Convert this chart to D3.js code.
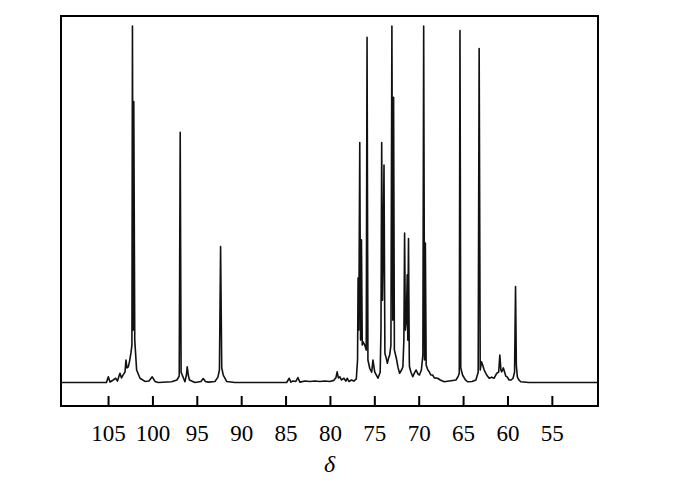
<!DOCTYPE html>
<html>
<head>
<meta charset="utf-8">
<script src="https://cdn.jsdelivr.net/npm/d3@7"></script>
<style>
  html, body { margin: 0; padding: 0; background: #fff; }
  svg { display: block; }
</style>
</head>
<body>
<script>
// Chemical shift (ppm) of each traced point of the spectrum
const shift = [
  110.3,105.35,105.18,104.97,104.78,104.41,104.14,103.94,103.66,103.49,103.28,103.09,
  102.98,102.87,102.72,102.59,102.42,102.31,102.25,102.17,102.10,101.99,101.78,101.40,
  100.84,100.39,100.02,99.71,99.34,97.83,97.24,96.98,96.87,96.77,96.64,96.34,96.17,96.08,
  95.96,95.83,95.21,94.53,94.28,94.03,93.71,92.96,92.62,92.45,92.32,92.19,92.02,91.64,
  90.71,84.88,84.59,84.40,84.17,83.84,83.61,83.39,82.82,82.26,81.70,81.13,80.57,80.01,
  79.56,79.33,79.19,79.05,78.88,78.71,78.43,78.21,78.06,77.87,77.57,77.31,77.03,76.89,
  76.83,76.75,76.64,76.55,76.45,76.36,76.27,76.08,75.91,75.82,75.72,75.52,75.30,75.15,
  74.96,74.59,74.34,74.25,74.17,74.08,74.00,73.91,73.81,73.67,73.53,73.39,73.27,73.13,
  73.02,72.92,72.83,72.74,72.52,72.32,72.15,71.93,71.78,71.67,71.59,71.50,71.39,71.29,
  71.23,71.15,71.06,71.04,70.87,70.67,70.48,70.29,70.09,69.92,69.70,69.53,69.44,69.34,
  69.25,69.16,68.97,68.81,68.64,68.43,68.24,67.87,67.57,67.12,66.56,65.80,65.54,65.43,
  65.35,65.26,65.06,64.76,64.50,63.97,63.56,63.30,63.19,63.07,62.93,62.79,62.62,62.34,
  62.06,61.78,61.50,61.20,60.99,60.86,60.74,60.64,60.46,60.32,60.19,60.01,59.82,59.59,
  59.37,59.20,59.09,59.00,58.89,58.70,58.51,57.58,49.8
];
// Relative intensity at each traced point
const intensity = [
  0,0,0,1.6,0.15,0.7,1.2,0.4,2.6,1.3,2.2,2.9,
  6.3,4.1,4.4,5.8,8.3,10.5,100,14.7,78.8,11.9,3.5,1.2,
  0.3,0.4,1.6,0.3,0,0.2,0.7,1.8,70.2,2.9,2.1,0.2,2.1,4.4,
  2.1,0.7,0,0.3,1.1,0.3,0.1,0.3,1.5,3.5,38.1,4.1,2.1,0.3,
  0,0,1.2,0.1,0.4,0.3,1.4,0.1,0.4,0.3,0.4,0.3,0.4,0.3,
  0.6,1.3,3.0,1.3,1.6,0.7,1.2,0.4,1.2,0.3,0.7,0.4,1.0,6.3,
  29.3,14.7,67.3,11.9,40.0,10.5,11.4,10.5,9.1,96.8,6.3,4.0,2.9,6.3,
  3.0,1.2,2.9,14.7,67.3,23.1,37.2,61.0,8.2,6.9,5.4,6.9,7.7,10.5,
  100,17.5,80.0,9.1,6.8,4.1,2.6,3.5,4.4,11.9,41.9,14.7,17.5,30.2,
  11.9,40.4,6.3,4.4,2.9,1.6,2.7,3.5,2.4,2.1,3.5,7.7,100,6.3,
  39.1,4.9,3.5,3.0,2.1,2.1,1.3,1.2,0.7,0.2,0.4,0.7,1.8,2.6,
  98.7,4.1,2.1,0.8,0.2,0.3,0.7,2.9,93.7,3.5,5.8,4.9,3.5,2.1,
  1.2,1.5,1.2,2.6,2.9,7.7,3.5,3.0,4.1,2.9,1.8,1.5,0.7,0.7,
  1.2,2.9,26.9,4.9,1.6,0.7,0.2,0,0
];
const tickValues = [105,100,95,90,85,80,75,70,65,60,55];
const xTitle = "δ";

const W = 674, H = 484;
const L = 61, R = 598, T = 16, B = 406;

const svg = d3.select("body").append("svg")
  .attr("width", W).attr("height", H);

const x = d3.scaleLinear().domain([110.3, 49.8]).range([L, R]);
const y = d3.scaleLinear().domain([0, 100]).range([382.5, 26]);

const pts = shift.map((s, i) => [s, intensity[i]]);

svg.append("path")
  .datum(pts)
  .attr("fill", "none")
  .attr("stroke", "#111")
  .attr("stroke-width", 1.6)
  .attr("stroke-linejoin", "round")
  .attr("d", d3.line().x(d => x(d[0])).y(d => y(d[1])));

// bottom axis with inward ticks
const axis = d3.axisBottom(x)
  .tickValues(tickValues)
  .tickSizeInner(-10)
  .tickSizeOuter(0)
  .tickPadding(19);

const g = svg.append("g")
  .attr("transform", `translate(0,${B})`)
  .call(axis);
g.select(".domain").remove();
g.selectAll(".tick line").attr("stroke", "#000").attr("stroke-width", 2);
g.selectAll(".tick text")
  .attr("font-family", "'Liberation Serif', 'Times New Roman', serif")
  .attr("font-size", 23)
  .attr("fill", "#000");

// frame
svg.append("rect")
  .attr("x", L).attr("y", T)
  .attr("width", R - L).attr("height", B - T)
  .attr("fill", "none")
  .attr("stroke", "#000")
  .attr("stroke-width", 2);

svg.append("text")
  .attr("x", (L + R) / 2)
  .attr("y", 472)
  .attr("text-anchor", "middle")
  .attr("font-family", "'Liberation Serif', 'Times New Roman', serif")
  .attr("font-style", "italic")
  .attr("font-size", 24)
  .attr("fill", "#000")
  .text(xTitle);
</script>
</body>
</html>
